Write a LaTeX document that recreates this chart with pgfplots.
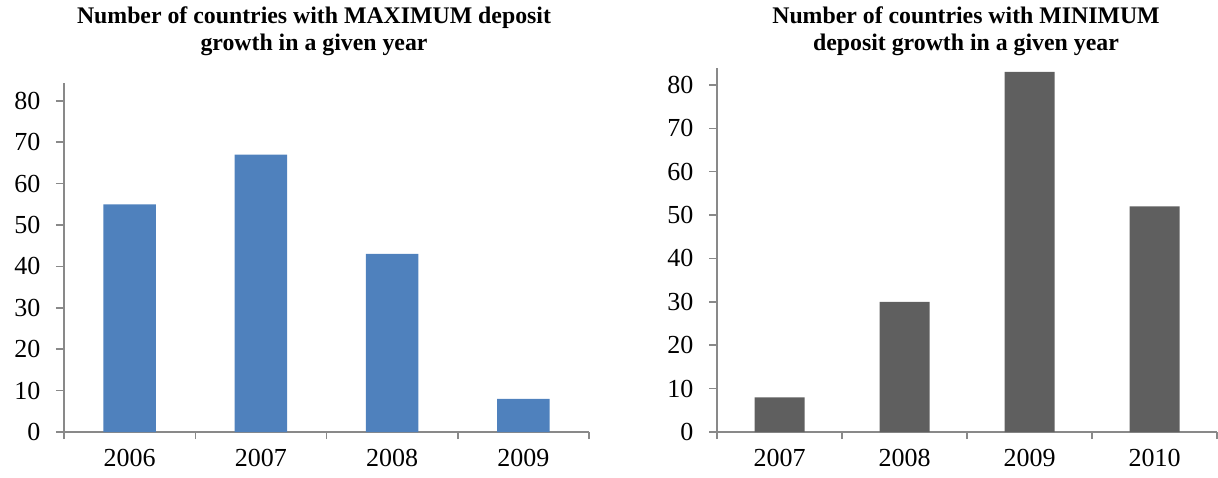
\documentclass[border=0pt]{standalone}
\usepackage{fontspec}
\setmainfont{Liberation Serif}
\usepackage{pgfplots}
\pgfplotsset{compat=1.18}
\definecolor{barblue}{HTML}{4F81BD}
\definecolor{bargray}{HTML}{5F5F5F}
\definecolor{axgray}{HTML}{898989}
\pgfplotsset{
  mystyle/.style={
    scale only axis,
    axis lines*=left,
    axis line style={-, axgray, line width=1.5pt},
    ybar, bar width=0.4, bar shift=0pt,
    ymin=0, ytick={0,10,...,80},
    xmin=-0.5, xmax=3.5, xtick={0,1,2,3},
    minor xtick={-0.5,0.5,1.5,2.5,3.5},
    tick align=outside,
    major tick length=8pt, minor tick length=7pt,
    every tick/.style={axgray, line width=1.5pt},
    every major x tick/.style={draw=none},
    tick label style={font=\fontsize{26}{30}\selectfont},
    yticklabel style={xshift=-12pt},
    xticklabel style={yshift=-6pt},
    /pgf/number format/assume math mode=true,
    clip=false,
  }
}
\begin{document}
\begin{tikzpicture}
\path (0pt,0pt) rectangle (1218pt,-478pt);
\node[align=center, font=\bfseries\fontsize{23.8}{27}\selectfont] at (314pt,-31pt) {Number of countries with MAXIMUM deposit\\growth in a given year};
\node[align=center, font=\bfseries\fontsize{23.8}{27}\selectfont] at (966pt,-31pt) {Number of countries with MINIMUM\\deposit growth in a given year};
\begin{axis}[mystyle, at={(64pt,-432pt)}, anchor=south west, width=525pt, height=349pt, ymax=84.3,
  xticklabels={2006,2007,2008,2009}]
\addplot[fill=barblue, draw=none] coordinates {(0,55) (1,67) (2,43) (3,8)};
\end{axis}
\begin{axis}[mystyle, at={(717pt,-432pt)}, anchor=south west, width=500pt, height=364pt, ymax=83.9,
  xticklabels={2007,2008,2009,2010}]
\addplot[fill=bargray, draw=none] coordinates {(0,8) (1,30) (2,83) (3,52)};
\end{axis}
\end{tikzpicture}
\end{document}
